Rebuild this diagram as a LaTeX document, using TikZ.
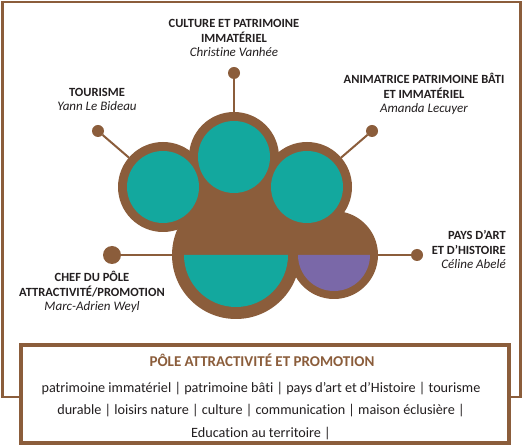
\documentclass[tikz,border=0pt]{standalone}
\usepackage{fontspec}
\setmainfont{Carlito}[Ligatures={TeX,NoCommon}]
\definecolor{brn}{HTML}{8B5D3B}
\definecolor{tealc}{HTML}{13A89E}
\definecolor{purp}{HTML}{7A68A8}
\definecolor{txt}{HTML}{231F20}
\newcommand{\nm}[1]{{\fontsize{13}{14.5}\selectfont\itshape #1}}
\begin{document}
\begin{tikzpicture}[x=1pt,y=1pt,
  ring/.style={circle, fill=brn, inner sep=0, outer sep=0, minimum size=#1},
  core/.style={circle, fill=tealc, inner sep=0, outer sep=0, minimum size=#1},
  knob/.style={circle, fill=brn, inner sep=0, outer sep=0, minimum size=#1},
  conn/.style={draw=brn, line width=2},
  lbl/.style={text=txt, align=center, inner sep=0, font=\fontsize{12.5}{14.5}\selectfont, anchor=base},
  boxtxt/.style={text=txt, align=center, inner sep=0, font=\fontsize{14.2}{22.5}\selectfont, anchor=base},
]
\useasboundingbox[fill=white] (0,0) rectangle (527,447);
% outer frame
\draw[brn, line width=2.5] (2.3,50) rectangle (520.5,444.8);
% bottom box
\node[draw=brn, line width=4.5, fill=white, minimum width=488, minimum height=97.5, inner sep=0, anchor=south west] (box) at (18.5,2) {};
\node[text=brn, font=\fontsize{15}{16}\selectfont\bfseries, anchor=base, inner sep=0] (boxhead) at (262,80) {PÔLE ATTRACTIVITÉ ET PROMOTION};
\node[boxtxt] (boxbody) at (261,10) {patrimoine immatériel | patrimoine bâti | pays d’art et d’Histoire | tourisme\\durable | loisirs nature | culture | communication | maison éclusière |\\Education au territoire |};
% brown rings / body
\node[ring=90] (c1) at (163,260) {};
\node[ring=90] (c3) at (307,260) {};
\node[ring=128] (big) at (236,192) {};
\node[ring=88] (rc) at (334,192) {};
\node[ring=90] (c2) at (234,290) {};
\fill[brn] (c1.center) -- (c2.center) -- (c3.center) -- (rc.center) -- (big.center) -- cycle;
% teal cores
\node[core=72] (t1) at (163,260) {};
\node[core=72] (t3) at (307,260) {};
\node[core=72] (t2) at (234,290) {};
\fill[tealc] (184,192) arc[start angle=180, end angle=360, radius=52] -- cycle;
\fill[purp] (298,192) arc[start angle=180, end angle=360, radius=36] -- cycle;
% knobs and connectors
\node[knob=12] (dtour) at (98,316) {};
\node[knob=12] (dtop) at (234,374) {};
\node[knob=12] (dright) at (372,316) {};
\node[knob=18] (dchef) at (112,192) {};
\node[knob=12] (dpays) at (417,192) {};
\draw[conn] (dtour) -- (c1);
\draw[conn] (dtop) -- (c2);
\draw[conn] (dright) -- (c3);
\draw[conn] (dchef) -- (big);
\draw[conn] (dpays) -- (rc);
% labels
\node[lbl] (lcult) at (234,390) {\textbf{CULTURE ET PATRIMOINE}\\\textbf{IMMATÉRIEL}\\\nm{Christine Vanhée}};
\node[lbl] (ltour) at (97,336) {\textbf{TOURISME}\\\nm{Yann Le Bideau}};
\node[lbl] (lanim) at (424,334) {\textbf{ANIMATRICE PATRIMOINE BÂTI}\\\textbf{ET IMMATÉRIEL}\\\nm{Amanda Lecuyer}};
\node[lbl, align=right, anchor=base east] (lpays) at (506,178) {\textbf{PAYS D’ART}\\\textbf{ET D’HISTOIRE}\\\nm{Céline Abelé}};
\node[lbl] (lchef) at (92,136) {\textbf{CHEF DU PÔLE}\\\textbf{ATTRACTIVITÉ/PROMOTION}\\\nm{Marc-Adrien Weyl}};
\end{tikzpicture}
\end{document}
